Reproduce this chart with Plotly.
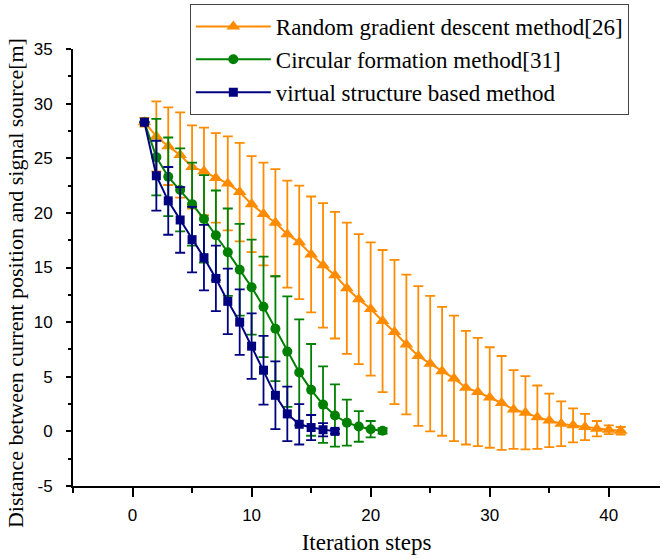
import plotly.graph_objects as go

# ---- data ----
x_rgd = list(range(1, 42))
y_rgd = [28.3, 27.0, 26.1, 25.3, 24.2, 23.8, 23.2, 22.7, 21.9, 20.8,
         19.9, 19.1, 18.05, 17.3, 16.2, 15.2, 14.3, 13.1, 12.1, 11.2,
         10.1, 9.1, 7.95, 6.9, 6.2, 5.5, 4.85, 4.0, 3.6, 3.1,
         2.6, 2.0, 1.7, 1.3, 1.0, 0.7, 0.55, 0.4, 0.25, 0.15, 0.05]
e_rgd = [0.4, 3.2, 3.55, 3.9, 3.8, 4.0, 4.1, 4.3, 4.5, 4.4,
         4.7, 4.9, 4.9, 5.2, 5.3, 5.7, 5.8, 6.0, 5.95, 6.1,
         6.5, 6.6, 6.4, 6.4, 6.2, 5.9, 5.75, 5.2, 4.95, 4.6,
         4.3, 3.6, 3.35, 2.9, 2.45, 2.05, 1.55, 1.2, 0.7, 0.4, 0.35]

x_cf = list(range(1, 22))
y_cf = [28.3, 25.1, 23.3, 22.1, 20.8, 19.45, 17.95, 16.4, 14.8, 13.2,
        11.4, 9.4, 7.3, 5.4, 3.8, 2.45, 1.45, 0.8, 0.45, 0.2, 0.05]
e_cf = [0.0, 3.5, 3.6, 3.8, 3.8, 4.0, 4.1, 4.0, 4.2, 4.35,
        4.6, 4.8, 5.05, 4.85, 4.2, 3.5, 2.85, 2.1, 1.4, 0.75, 0.25]

x_vs = list(range(1, 18))
y_vs = [28.3, 23.4, 21.1, 19.35, 17.55, 15.9, 14.0, 11.9, 10.0, 7.8,
        5.6, 3.3, 1.6, 0.65, 0.35, 0.15, 0.0]
e_vs = [0.0, 3.2, 3.1, 3.0, 3.0, 3.0, 3.0, 3.0, 3.0, 3.0,
        3.15, 3.1, 2.5, 1.85, 1.15, 0.6, 0.2]

names = ["Random gradient descent method[26]",
         "Circular formation method[31]",
         "virtual structure based method"]

x_ticks = [0, 10, 20, 30, 40]
y_ticks = [-5, 0, 5, 10, 15, 20, 25, 30, 35]
y_ticktext = ["-5", "0", "5", "10", "15", "20", "25", "30", "35"]

x_title = "Iteration steps"
y_title = "Distance between current position and signal source[m]"

ORANGE = "#FF8C00"
GREEN = "#008000"
NAVY = "#000080"

SERIF = "Liberation Serif, Times New Roman, Times, serif"
SANS = "Liberation Sans, Arial, sans-serif"

fig = go.Figure()
for xs, ys, es, nm, col, sym, ms in [
    (x_rgd, y_rgd, e_rgd, names[0], ORANGE, "triangle-up", 12),
    (x_cf, y_cf, e_cf, names[1], GREEN, "circle", 10),
    (x_vs, y_vs, e_vs, names[2], NAVY, "square", 9),
]:
    fig.add_trace(go.Scatter(
        x=xs, y=ys, name=nm, mode="lines+markers",
        line=dict(color=col, width=2),
        marker=dict(symbol=sym, size=ms, color=col),
        error_y=dict(type="data", array=es, visible=True,
                     color=col, thickness=1.8, width=5),
    ))

fig.update_layout(
    width=663, height=559,
    margin=dict(l=73, r=3, t=49, b=73, autoexpand=False),
    paper_bgcolor="white", plot_bgcolor="white",
    showlegend=True,
    legend=dict(
        x=0.199, y=1.103, xanchor="left", yanchor="top",
        font=dict(family=SERIF, size=23, color="black"),
        bordercolor="#444444", borderwidth=1, bgcolor="white",
        tracegroupgap=0, itemwidth=75,
    ),
    xaxis=dict(
        range=[-5, 44.3], tickvals=x_ticks, ticks="outside", ticklen=9,
        tickwidth=1.5, tickcolor="black", showline=True, linecolor="black",
        linewidth=1.8, showgrid=False, zeroline=False,
        minor=dict(dtick=5, tick0=0, ticks="outside", ticklen=5,
                   tickwidth=1.5, tickcolor="black"),
        tickfont=dict(family=SANS, size=17, color="black"),
        ticklabelstandoff=4,
        title=dict(text=x_title,
                   font=dict(family=SERIF, size=23, color="black"),
                   standoff=10),
    ),
    yaxis=dict(
        range=[-5, 35], tickvals=y_ticks, ticktext=y_ticktext,
        ticks="outside", ticklen=5,
        tickwidth=1.5, tickcolor="black", showline=True, linecolor="black",
        linewidth=1.8, showgrid=False, zeroline=False,
        minor=dict(dtick=2.5, tick0=0, ticks="outside", ticklen=3,
                   tickwidth=1.5, tickcolor="black"),
        tickfont=dict(family=SANS, size=17, color="black"),
        ticklabelstandoff=10,
    ),
    annotations=[dict(
        text=y_title, xref="paper", yref="paper", x=0, y=0.4645,
        xanchor="center", yanchor="middle", xshift=-58, textangle=-90,
        showarrow=False, font=dict(family=SERIF, size=22, color="black"),
    )],
)

fig.write_html("out.html",
               config={"displayModeBar": False},
               post_script="document.body.style.margin='0px';")
